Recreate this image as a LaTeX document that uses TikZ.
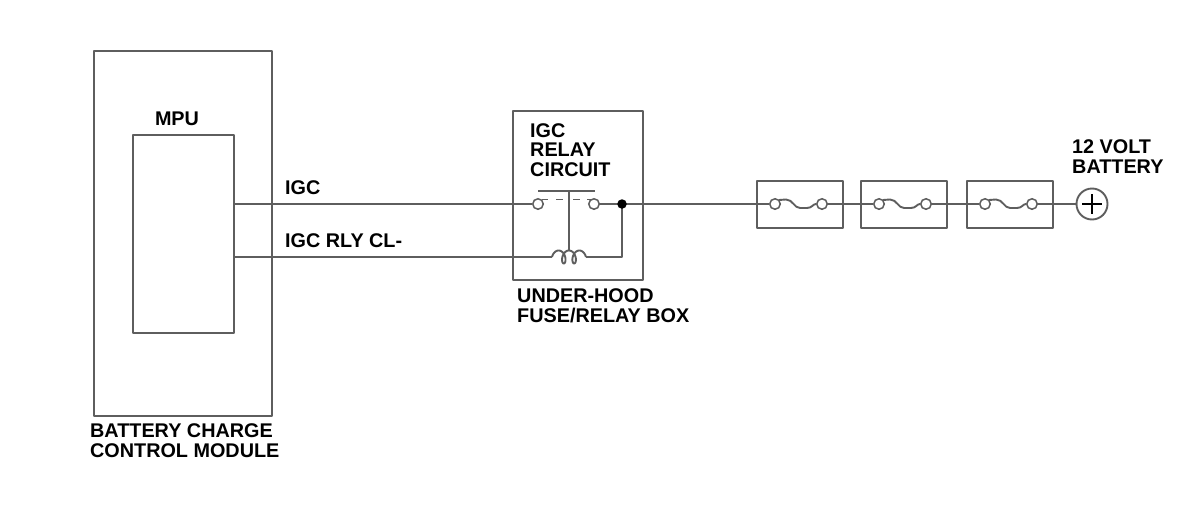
\documentclass[tikz,border=0pt]{standalone}
\usepackage{fontspec}
\setmainfont{Liberation Sans}
\usepackage{xcolor}
\usepackage{tikz}
\usetikzlibrary{calc}
\definecolor{bg}{HTML}{FFFFFF}
\definecolor{wire}{HTML}{5E5E5E}
\definecolor{text}{HTML}{000000}
\tikzset{
  base/.style={draw=wire, line width=1.9pt, line join=round},
  box/.style={base, rectangle, inner sep=0pt, anchor=north west},
  contact/.style={circle, draw=wire, fill=bg, line width=1.5pt, minimum size=10.5pt, inner sep=0pt},
  dot/.style={circle, fill=text, minimum size=9.5pt, inner sep=0pt},
  plus/.style={draw=text, line width=2.8pt},
  lab/.style={text=text, font=\bfseries\fontsize{19.8}{19.5}\selectfont, inner sep=0pt, align=left, anchor=base west},
}
\begin{document}
\begin{tikzpicture}[x=1pt, y=-1pt]
  \useasboundingbox[fill=bg] (0,0) rectangle (1200,517);

  % modules
  \node[box, minimum width=178pt, minimum height=365pt] (bccm) at (93,50) {};
  \node[box, minimum width=101pt, minimum height=198pt] (mpu) at (132,134) {};
  \node[box, minimum width=130pt, minimum height=169pt] (relaybox) at (512,110) {};

  % labels (base = last line)
  \node[lab, anchor=base] at (177,125) {MPU};
  \node[lab] at (90,457) {BATTERY CHARGE\\CONTROL MODULE};
  \node[lab] at (285,194) {IGC};
  \node[lab] at (285,247) {IGC RLY CL-};
  \node[lab] at (530,176) {IGC\\RELAY\\CIRCUIT};
  \node[lab] at (517,322) {UNDER-HOOD\\FUSE/RELAY BOX};
  \node[lab] at (1072,173) {12 VOLT\\BATTERY};

  % relay contacts and coil
  \coordinate (jn) at (622,204);
  \coordinate (coilL) at (552,257);
  \coordinate (coilR) at (585.9,257);
  \coordinate (arm) at (569,191);
  \node[contact] (cL) at (538,204) {};
  \node[contact] (cR) at (594,204) {};

  \draw[base] ($(cL)+(0,-13)$) -- ($(cR)+(1,-13)$);
  \draw[base, dash pattern=on 6pt off 8pt on 7pt off 10pt on 7pt off 7pt on 4pt]
    ($(cL)+(4,-4.5)$) -- ($(cR)+(-3,-4.5)$);
  \draw[base] (arm) -- (arm |- 0,250.5);
  \draw[base] plot[domain=pi/2:5.5*pi, samples=120, variable=\t, smooth]
    ({553.41+1.65*\t-4*sin(\t r)}, {257+6.5*cos(\t r)});

  % wires
  \draw[base] (mpu.east |- cL) -- (cL.west);
  \draw[base] (mpu.east |- coilL) -- (coilL);
  \draw[base] (coilR) -- (jn |- coilR) -- (jn);
  \draw[base] (cR.east) -- (jn);

  % fuses
  \foreach \i/\x in {1/756, 2/860, 3/966} {
    \node[box, minimum width=86pt, minimum height=47pt] (fuse\i) at (\x,180) {};
    \node[contact] (fa\i) at (\x+19,204) {};
    \node[contact] (fb\i) at (\x+66,204) {};
    \draw[base] ($(fa\i)+(4,-4)$) -- ($(fa\i)+(11,-4.5)$)
      .. controls ($(fa\i)+(18,-4.5)$) and ($(fa\i)+(19,4)$) .. ($(fa\i)+(25,4)$)
      -- ($(fa\i)+(32,4)$)
      .. controls ($(fa\i)+(37,4)$) and ($(fb\i)+(-9,0)$) .. (fb\i.west);
  }

  % battery
  \node[circle, base, minimum size=31pt, inner sep=0pt] (batt) at (1092,204) {};
  \draw[plus] ($(batt)+(-10,0)$) -- ($(batt)+(10,0)$);
  \draw[plus] ($(batt)+(0,-10)$) -- ($(batt)+(0,10)$);

  \draw[base] (jn) -- (fa1.west) (fb1.east) -- (fa2.west)
    (fb2.east) -- (fa3.west) (fb3.east) -- (batt.west);
  \node[dot] at (jn) {};
\end{tikzpicture}
\end{document}
